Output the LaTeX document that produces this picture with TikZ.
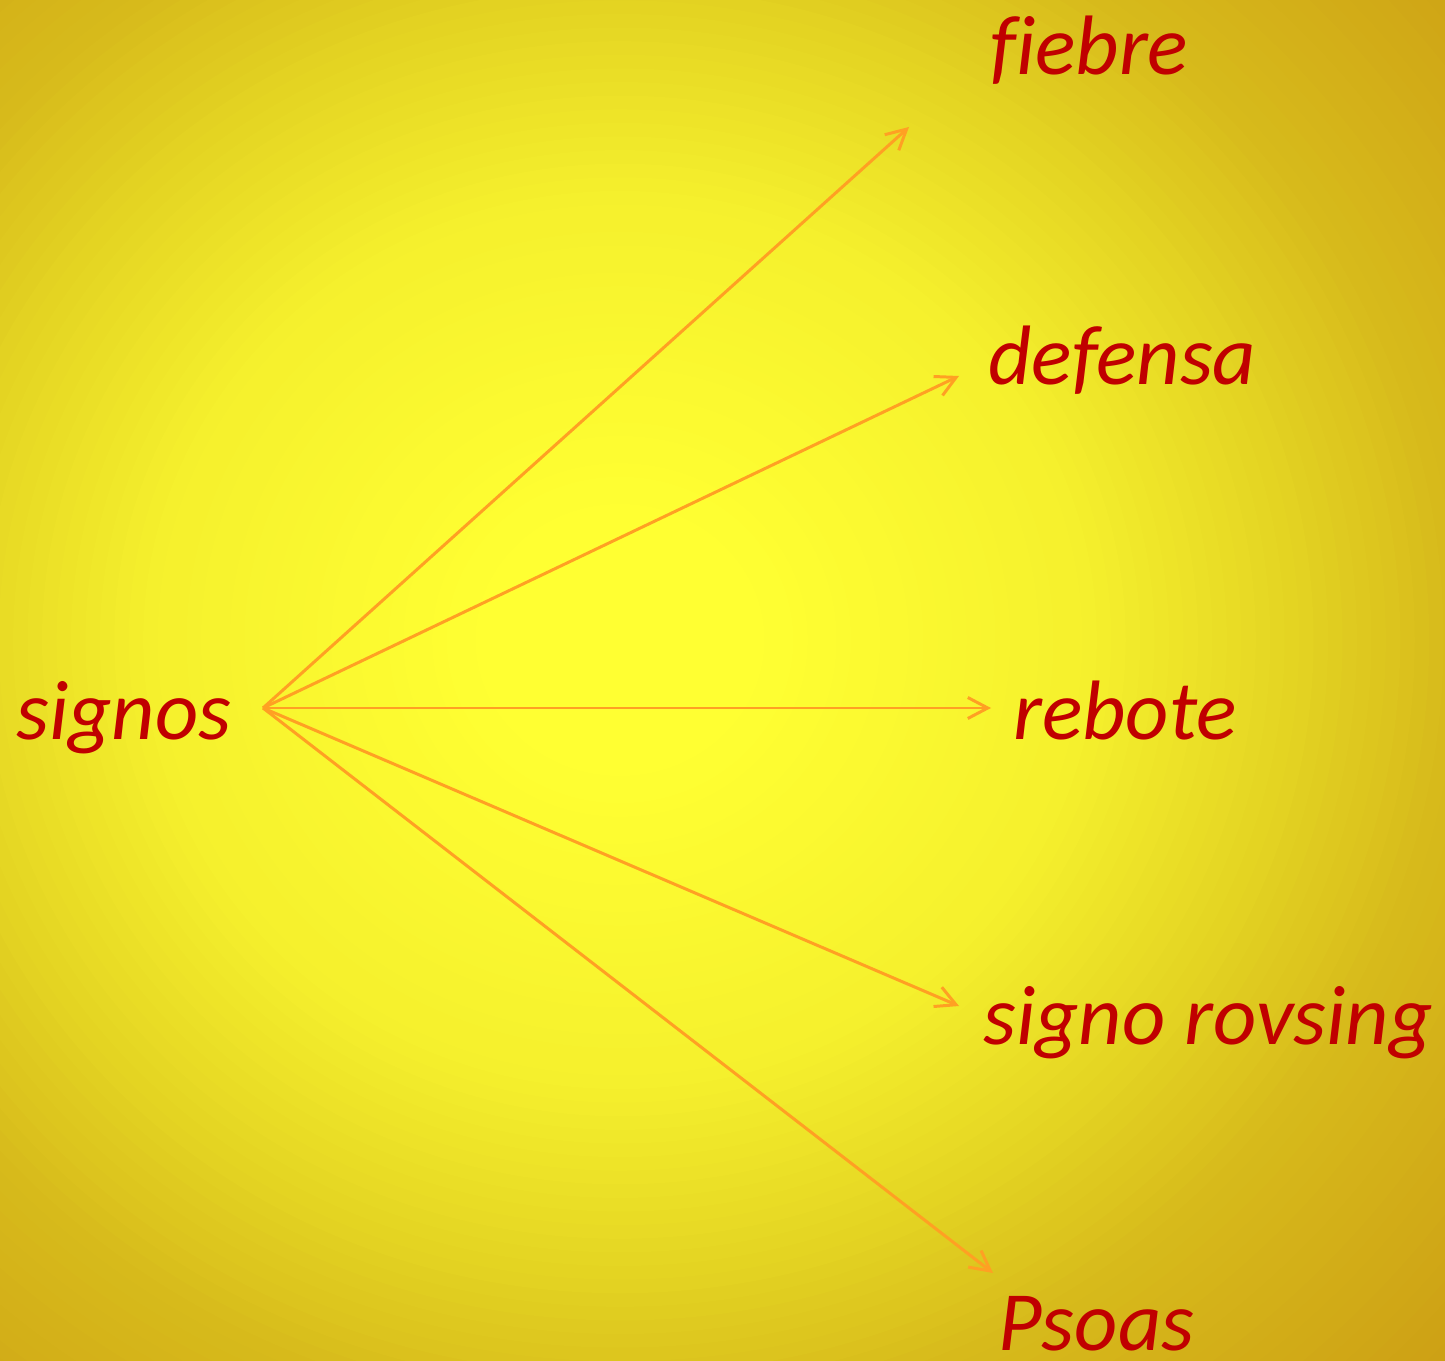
\documentclass[tikz,border=0pt]{standalone}
\usepackage{fontspec}
\setmainfont{Carlito}[Ligatures=CommonOff]
\usetikzlibrary{arrows.meta, positioning}
\definecolor{glowin}{RGB}{255,255,50}
\definecolor{glowsoft}{RGB}{245,240,45}
\definecolor{glowmid}{RGB}{229,214,35}
\definecolor{glowedge}{RGB}{215,186,27}
\definecolor{glowout}{RGB}{204,158,20}
\definecolor{signred}{RGB}{192,0,0}
\definecolor{arroworange}{RGB}{255,160,35}

\begin{document}
\begin{tikzpicture}[
    x=0.02cm, y=-0.02cm,
    term/.style={anchor=base west, inner sep=0pt, text=signred, font=\fontsize{48}{52}\selectfont\itshape},
    arrow/.style={-{Straight Barb[length=0.4cm, width=0.42cm]}, arroworange, line width=1.7pt}
]

% fondo
\useasboundingbox (0,0) rectangle (1445,1361);
\fill[glowout] (0,0) rectangle (1445,1361);
\foreach \ra/\rb/\ca/\cb in {58/80/glowedge/glowout, 46/58/glowmid/glowedge, 33/46/glowsoft/glowmid, 10/33/glowin/glowsoft}
    \foreach \r in {\rb,...,\ra} {
        \pgfmathtruncatemacro\p{100*(\r-\ra)/(\rb-\ra)}
        \fill[\cb!\p!\ca] (620,640) ellipse [x radius=\r*14.45, y radius=\r*13.61];
    }
\fill[glowin] (620,640) ellipse [x radius=144.5, y radius=136.1];

% terminos
\node[term] (signos) at (16,740) {signos};
\node[term] (fiebre) at (990,75) {fiebre};
\node[term] (defensa) at (988,385) {defensa};
\node[term] (rebote) at (1013,740) {rebote};
\node[term] (rovsing) at (983,1045) {signo rovsing};
\node[term] (psoas) at (998,1350) {Psoas};

% puntas
\coordinate (hub) at (263,708);
\coordinate (fiebre-tip) at (909,127);
\coordinate (defensa-tip) at (959,376);
\coordinate (rebote-tip) at (991,708);
\coordinate (rovsing-tip) at (959,1006);
\coordinate (psoas-tip) at (993,1273);

\foreach \t in {fiebre,defensa,rebote,rovsing,psoas}
    \draw[arrow] (hub) -- (\t-tip);

\end{tikzpicture}
\end{document}
